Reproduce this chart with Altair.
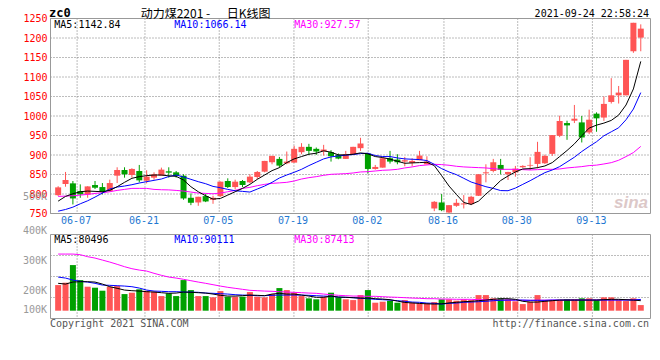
import altair as alt
import pandas as pd

# ---------------- data ----------------
opens = [797, 825.6, 827.3, 807.5, 798.9, 823, 817.8, 807.5, 847, 861.6,
         848.7, 859, 834.1, 841.9, 847, 858.2, 855.6, 847, 790.3, 778.3,
         794.6, 785.2, 794.6, 833.3, 817.8, 833.3, 829.9, 843.6, 857.3, 881.4,
         890, 878.8, 880.5, 907.2, 920.9, 915.8, 909.8, 907.2, 900.3, 890,
         902, 917.5, 903.7, 864.2, 867.6, 891.7, 888.3, 883.1, 879.7, 886.6,
         876.2, 762.9, 778.3, 752.5, 769.7, 773.2, 774, 795.5, 853, 859,
         874.5, 850.5, 855.6, 868.5, 872.8, 877.1, 878.8, 902.9, 949.3, 981.9,
         987.9, 983.6, 957.8, 1006, 996, 1036, 1053, 1053, 1166, 1201]
highs = [820, 856.5, 833.3, 824.7, 820, 833.3, 828.1, 836.7, 868.5, 868.5,
         866, 874.5, 860.8, 855.6, 867.6, 868.5, 859, 850.5, 801.5, 793,
         800.6, 795.5, 832, 840.2, 836.7, 835.9, 850.5, 859, 885, 898,
         895.1, 908.9, 923.5, 930.4, 928.6, 919.2, 926, 912.3, 903.7, 910.6,
         921, 944.1, 904, 874.5, 893.4, 910.6, 902, 895.1, 891.7, 910.6,
         896.8, 781.7, 799.8, 771.5, 786.9, 797.2, 795.5, 851, 876.2, 890,
         890, 857, 872, 873.7, 894.3, 933.8, 901, 951, 1000.8, 987.9,
         1028.3, 1000, 1016.3, 1009.4, 1050, 1097, 1077, 1144, 1239, 1235]
lows = [795, 818.7, 773.2, 790.3, 790.3, 812.7, 798.9, 805.8, 828.1, 841.9,
        841.9, 829.9, 827.3, 836.7, 847, 841.9, 841.9, 785.2, 771.4, 769.7,
        779.2, 774.9, 792.9, 815.2, 811.8, 817.8, 827.3, 838.4, 855.6, 876.2,
        867.6, 876.2, 880.5, 902, 900.3, 900.3, 898.6, 883.1, 889.1, 890,
        901.2, 910.6, 852.2, 862.5, 867.6, 878, 876.2, 871.1, 871.1, 886.6,
        876.2, 756, 756, 750, 767.1, 762.9, 771.4, 795, 829.9, 855.6,
        850.5, 835.9, 844.4, 866.8, 861.6, 866, 877.1, 897.7, 945.8, 938.9,
        981.9, 932.1, 953.6, 959.6, 987.5, 1032, 1032, 1053, 1162, 1166]
closes = [817, 835.9, 788.6, 798.9, 819.5, 816.1, 805.8, 828.1, 861.6, 850.5,
          864.2, 835, 844.5, 850.5, 862.5, 854.8, 846.2, 788.6, 777.5, 792.9,
          780.9, 790.3, 831.6, 817.8, 831.6, 823, 844.5, 856.5, 884.8, 897.7,
          872.8, 883, 915.8, 920.9, 910.6, 908.9, 914, 896.8, 890.8, 902,
          920.9, 929.5, 864.2, 869.4, 891.7, 883.1, 881.4, 886.6, 884.8, 898.6,
          883.1, 780, 758.5, 771.4, 777.4, 775.8, 792.9, 850.5, 855.6, 881.4,
          862, 856.5, 865, 872, 874.5, 908, 897.7, 951, 987, 975.9,
          993.1, 945, 990.5, 994, 1031, 1053, 1060, 1144, 1239, 1224]
ma5 = [781.7, 793.8, 800.6, 805.8, 807.5, 806.7, 805.8, 809.2, 818.7, 829.9,
       840.2, 844.5, 847, 848.7, 848.7, 846.5, 845.3, 835.9, 818.7, 805.8,
       795.5, 786.9, 788.6, 797.2, 805.8, 814.4, 824.7, 837.6, 848.7, 859.9,
       867.6, 880.5, 890, 896, 902, 904.6, 910.6, 907.2, 900.3, 900.3,
       902, 905.4, 902.9, 896, 893.4, 889.5, 884, 878.8, 879.7, 880.5,
       881.4, 872.8, 847, 820.4, 798.9, 778.3, 773.2, 781.7, 799.8, 816.1,
       834.5, 846.2, 856.5, 864.2, 865, 867.6, 871.9, 880.5, 896, 911.5,
       928.6, 949.2, 969, 976.6, 981.8, 988.7, 1002.4, 1028.2, 1069.4, 1140]
ma10 = [756, 760.3, 766.3, 774.9, 782.6, 792.1, 802.4, 812.7, 817.8, 820.4,
        823.8, 828.1, 831.6, 835, 838.4, 844.8, 848.7, 843.6, 837.6, 831.6,
        826.4, 819.5, 816.1, 811.8, 808.4, 806.7, 805, 812.7, 820.4, 829.9,
        841, 848.7, 855.6, 863.3, 872.8, 881.4, 890, 895.1, 897.7, 899.4,
        901.1, 903.7, 904.6, 898.6, 896, 896, 892.5, 890, 889.1, 888.3,
        885.7, 876.2, 865, 856.5, 849.6, 840.2, 830.7, 824.7, 818.7, 814.4,
        808.8, 808.4, 815.2, 824.7, 834.1, 844.5, 854.8, 861.6, 870.2, 882.2,
        894.3, 908.9, 921.8, 934, 949.2, 959.5, 969.8, 990.4, 1017.9, 1060]
ma30 = [793.8, 794.6, 795.5, 797.2, 798.9, 801.5, 803.2, 805.8, 809.2, 811.8,
        814.4, 814.4, 814.4, 811.8, 810.9, 810.5, 809.2, 807.5, 805, 802.4,
        801.5, 800.6, 802.4, 805.8, 809.2, 814.4, 817, 821.3, 824.7, 827.3,
        828.5, 829.9, 833.3, 838.4, 841.9, 844.5, 847.9, 850.5, 851.3, 852.2,
        853.9, 856.5, 857.3, 859, 860.8, 861.6, 863.3, 866.8, 869.4, 872.8,
        874.5, 876.2, 875.4, 873.7, 871.1, 869.4, 868.5, 867.6, 866.8, 865,
        863.3, 863.3, 863.3, 862.5, 861.6, 862.5, 863.3, 863.3, 864.2, 866.8,
        868.5, 870.2, 872.8, 874, 877, 880.4, 886.5, 895.9, 906.2, 922]
# volumes in thousands of lots
vols = [205, 224, 365, 245, 192, 184, 160, 192, 197, 133,
        144, 171, 160, 152, 117, 139, 117, 245, 165, 117,
        117, 107, 157, 112, 112, 112, 149, 112, 107, 133,
        181, 165, 144, 117, 99, 91, 112, 144, 107, 91,
        85, 125, 165, 64, 72, 80, 64, 85, 64, 59,
        59, 69, 91, 91, 80, 91, 85, 125, 125, 99,
        99, 91, 75, 53, 72, 125, 85, 85, 85, 91,
        91, 99, 99, 85, 107, 107, 85, 77, 99, 45]
vma5 = [219, 213, 229, 232, 232, 229, 213, 192, 179, 165,
        160, 157, 152, 149, 144, 139, 141, 149, 147, 144,
        141, 133, 123, 117, 117, 120, 125, 123, 120, 133,
        139, 133, 133, 125, 117, 107, 107, 117, 109, 107,
        104, 101, 101, 96, 93, 88, 77, 66, 62, 58,
        55, 53, 55, 62, 67, 72, 75, 80, 85, 91,
        96, 96, 91, 75, 69, 69, 75, 80, 85, 85,
        85, 85, 85, 85, 88, 91, 91, 88, 85, 80]
vma10 = [269, 261, 245, 235, 229, 219, 205, 203, 200, 197,
         192, 181, 165, 157, 155, 152, 152, 149, 149, 147,
         141, 139, 136, 133, 128, 125, 123, 120, 120, 123,
         125, 125, 125, 125, 123, 120, 117, 115, 109, 107,
         104, 99, 96, 91, 88, 85, 80, 75, 69, 67,
         61, 59, 53, 59, 61, 67, 69, 72, 75, 80,
         83, 85, 85, 85, 83, 83, 83, 85, 85, 85,
         85, 85, 85, 85, 85, 85, 85, 85, 85, 90]
vma30 = [453, 453, 453, 448, 432, 421, 405, 389, 371, 352,
         336, 325, 317, 299, 283, 269, 261, 251, 240, 229,
         219, 208, 197, 187, 179, 171, 163, 160, 157, 155,
         152, 149, 147, 144, 141, 139, 133, 128, 123, 120,
         117, 117, 115, 115, 112, 109, 107, 104, 101, 99,
         96, 96, 93, 93, 91, 91, 91, 88, 88, 88,
         85, 85, 85, 83, 83, 84, 84, 85, 85, 85,
         86, 86, 86, 86, 87, 87, 87, 87, 87, 87]

date_tick_pos = [2.57, 11.77, 21.84, 31.97, 42.04, 52.31, 62.31, 72.44]
date_tick_labels = ["06-07", "06-21", "07-05", "07-19", "08-02", "08-16", "08-30", "09-13"]
price_ticks = [750, 800, 850, 900, 950, 1000, 1050, 1100, 1150, 1200, 1250]
vol_label_text = ["500K", "400K", "300K", "200K", "100K"]
vol_label_at = [909.6, 640, 400, 160, 5.6]
vol_grid = [105.6, 273.6, 441.6]

# ---------------- styling ----------------
MONO = "DejaVu Sans Mono"
CJK = "Noto Sans CJK SC"
RED = "#ff5555"
GREEN = "#00a000"
GRID = "#7a7a7a"
BORDER = "#999999"
W, PH, VT, VB = 600, 195, 216, 300

df = pd.DataFrame({
    "j": list(range(len(opens))), "open": opens, "high": highs, "low": lows,
    "close": closes, "ma5": ma5, "ma10": ma10, "ma30": ma30,
    "vol": vols, "vma5": vma5, "vma10": vma10, "vma30": vma30,
})
ticks = pd.DataFrame({"pos": date_tick_pos, "lab": date_tick_labels})
vlabels = pd.DataFrame({"t": vol_label_text, "v": vol_label_at})
pgrid = pd.DataFrame({"g": price_ticks})
vgridv = pd.DataFrame({"g": vol_grid})
dummy = pd.DataFrame({"d": [0]})

xs = alt.Scale(domain=[-0.36, 79.64], nice=False, zero=False)
X = alt.X("j:Q", scale=xs, axis=None)
py = alt.Scale(domain=[750, 1250], range=[PH, 0], nice=False, zero=False)
vy = alt.Scale(domain=[-62.4, 609.6], range=[VB, VT], nice=False, zero=False)
updown = alt.condition("datum.close >= datum.open", alt.value(RED), alt.value(GREEN))

price_axis = alt.Axis(values=price_ticks, format="d", title=None, labelColor="#ff0000",
                      labelFont=MONO, labelFontSize=10, labelPadding=3.5,
                      labelBaseline="middle", ticks=False, domain=False, grid=False)

base = alt.Chart(df)


def PY(field):
    return alt.Y(field, scale=py, axis=price_axis, title=None)


def VY(field):
    return alt.Y(field, scale=vy, axis=None, title=None)


def note(txt, x, y, color="#000000", size=10, font=MONO, align="left",
         weight="normal", style="normal", baseline="alphabetic"):
    return alt.Chart(dummy).mark_text(
        text=txt, align=align, baseline=baseline, font=font, fontSize=size,
        color=color, fontWeight=weight, fontStyle=style
    ).encode(x=alt.value(x), y=alt.value(y))


dotted = dict(color=GRID, strokeDash=[1, 2], strokeWidth=1, opacity=1)

# ---------- price panel ----------
hgrid_p = alt.Chart(pgrid).mark_rule(**dotted).encode(
    y=PY("g:Q"), x=alt.value(0), x2=alt.value(W))
wicks = base.mark_rule(strokeWidth=1).encode(
    x=X, y=PY("low:Q"), y2="high:Q", color=updown)
bodies = base.mark_bar(size=6).encode(
    x=X, y=PY("open:Q"), y2="close:Q", color=updown)
l5 = base.mark_line(color="#000000", strokeWidth=1).encode(x=X, y=PY("ma5:Q"))
l10 = base.mark_line(color="#0000ff", strokeWidth=1).encode(x=X, y=PY("ma10:Q"))
l30 = base.mark_line(color="#ff00ff", strokeWidth=1).encode(x=X, y=PY("ma30:Q"))
price = alt.layer(hgrid_p, wicks, bodies, l30, l10, l5)

# ---------- volume panel ----------
hgrid_v = alt.Chart(vgridv).mark_rule(**dotted).encode(
    y=VY("g:Q"), x=alt.value(0), x2=alt.value(W))
vbars = base.mark_bar(size=6).encode(
    x=X, y=VY("vol:Q"), y2=alt.datum(0), color=updown)
v5 = base.mark_line(color="#000000", strokeWidth=1).encode(x=X, y=VY("vma5:Q"))
v10 = base.mark_line(color="#0000ff", strokeWidth=1).encode(x=X, y=VY("vma10:Q"))
v30 = base.mark_line(color="#ff00ff", strokeWidth=1).encode(x=X, y=VY("vma30:Q"))
vlab = alt.Chart(vlabels).mark_text(
    font=MONO, fontSize=10, color="#999999", align="right", baseline="middle"
).encode(x=alt.value(-3.5), y=VY("v:Q"), text="t:N")
volume = alt.layer(hgrid_v, vbars, v30, v10, v5, vlab)

# ---------- shared decorations ----------
TX = alt.X("pos:Q", scale=xs, axis=None)
vgrid_p = alt.Chart(ticks).mark_rule(**dotted).encode(
    x=TX, y=alt.value(0), y2=alt.value(PH))
vgrid_v = alt.Chart(ticks).mark_rule(**dotted).encode(
    x=TX, y=alt.value(VT), y2=alt.value(VB))
dates = alt.Chart(ticks).mark_text(
    font=MONO, fontSize=10, color="#1f78d1", baseline="alphabetic", dx=-1
).encode(x=TX, y=alt.value(PH + 10.5), text="lab:N")
frame_p = alt.Chart(dummy).mark_rect(filled=False, color=BORDER, strokeWidth=1).encode(
    x=alt.value(0), x2=alt.value(W), y=alt.value(0), y2=alt.value(PH))
frame_v = alt.Chart(dummy).mark_rect(filled=False, color=BORDER, strokeWidth=1).encode(
    x=alt.value(0), x2=alt.value(W), y=alt.value(VT), y2=alt.value(VB))

texts = [
    note("zc0", -1.5, -1.5, size=12, weight="bold"),
    note("动力煤2201 -", 90.2, -1, size=12, font=CJK),
    note("日K线图", 176.2, -1, size=12, font=CJK),
    note("2021-09-24 22:58:24", 598.5, -2, align="right"),
    note("MA5:1142.84", 3.8, 9.3),
    note("MA10:1066.14", 123.8, 9.3, color="#0000ff"),
    note("MA30:927.57", 243.8, 9.3, color="#ff00ff"),
    note("MA5:80496", 3.8, 224),
    note("MA10:90111", 123.8, 224, color="#0000ff"),
    note("MA30:87413", 243.8, 224, color="#ff00ff"),
    note("Copyright 2021 SINA.COM", -0.5, 308, color="#555555"),
    note("http://finance.sina.com.cn", 598.5, 308, color="#555555", align="right"),
    note("sina", 597.5, 189.5, color="#dcc8c8", size=17, font="Liberation Sans",
         align="right", weight="bold", style="italic"),
]

chart = alt.layer(
    vgrid_p, vgrid_v, price, volume, dates, frame_p, frame_v, *texts
).resolve_scale(y="independent").properties(
    width=W, height=VB,
    autosize=alt.AutoSizeParams(type="none"),
    padding={"left": 42.5, "top": 10.5, "right": 1.5, "bottom": 14},
).configure_view(stroke=None)

chart.save("out.html", embed_options={"renderer": "svg", "actions": False})
